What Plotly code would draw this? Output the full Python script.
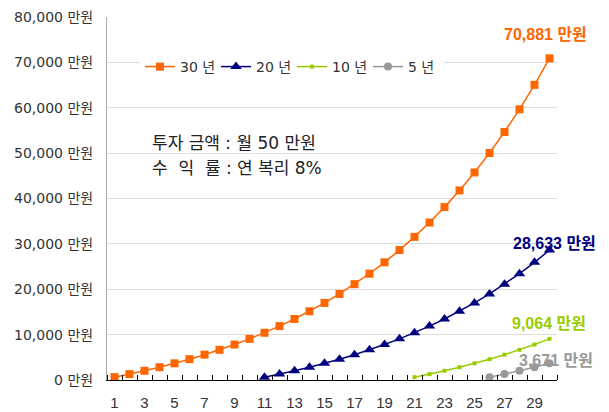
import plotly.graph_objects as go

years = list(range(1, 31))
tick_years = [1, 3, 5, 7, 9, 11, 13, 15, 17, 19, 21, 23, 25, 27, 29]
y_ticks = [0, 10000, 20000, 30000, 40000, 50000, 60000, 70000, 80000]
y_tick_labels = ["0 만원", "10,000 만원", "20,000 만원", "30,000 만원", "40,000 만원",
                 "50,000 만원", "60,000 만원", "70,000 만원", "80,000 만원"]

series_30_x = list(range(1, 31))
series_30 = [626, 1301, 2031, 2819, 3671, 4590, 5583, 6655, 7814, 9064,
             10415, 11874, 13450, 15151, 16989, 18974, 21118, 23433, 25933, 28633,
             31550, 34700, 38101, 41775, 45743, 50028, 54656, 59654, 65052, 70881]
series_20_x = list(range(11, 31))
series_20 = [626, 1301, 2031, 2819, 3671, 4590, 5583, 6655, 7814, 9064,
             10415, 11874, 13450, 15151, 16989, 18974, 21118, 23433, 25933, 28633]
series_10_x = list(range(21, 31))
series_10 = [626, 1301, 2031, 2819, 3671, 4590, 5583, 6655, 7814, 9064]
series_5_x = list(range(26, 31))
series_5 = [626, 1301, 2031, 2819, 3671]

names = ["30 년", "20 년", "10 년", "5 년"]
end_labels = ["70,881 만원", "28,633 만원", "9,064 만원", "3,671 만원"]

FONT = "DejaVu Sans, Noto Sans CJK KR"
BFONT = "Liberation Sans, Noto Sans CJK KR"
C30, C20, C10, C5 = "#FF6600", "#000080", "#99CC00", "#999999"

fig = go.Figure()
fig.add_trace(go.Scatter(x=series_30_x, y=series_30, name=names[0], mode="lines+markers",
                         line=dict(color=C30, width=1.5),
                         marker=dict(symbol="square", size=8, color=C30)))
fig.add_trace(go.Scatter(x=series_20_x, y=series_20, name=names[1], mode="lines+markers",
                         line=dict(color=C20, width=1.5),
                         marker=dict(symbol="triangle-up", size=10, color=C20)))
fig.add_trace(go.Scatter(x=series_10_x, y=series_10, name=names[2], mode="lines+markers",
                         line=dict(color=C10, width=1.5),
                         marker=dict(symbol="square", size=4, color=C10)))
fig.add_trace(go.Scatter(x=series_5_x, y=series_5, name=names[3], mode="lines+markers",
                         line=dict(color=C5, width=1.5),
                         marker=dict(symbol="circle", size=8, color=C5)))

# end labels
fig.add_annotation(x=series_30_x[-1], y=series_30[-1], text="<b>" + end_labels[0] + "</b>",
                   showarrow=False, xanchor="center", yanchor="middle", xshift=-4, yshift=24,
                   font=dict(family=BFONT, size=16, color=C30))
fig.add_annotation(x=series_20_x[-1], y=series_20[-1], text="<b>" + end_labels[1] + "</b>",
                   showarrow=False, xanchor="center", yanchor="middle", xshift=5, yshift=7,
                   font=dict(family=BFONT, size=16, color=C20))
fig.add_annotation(x=series_10_x[-1], y=series_10[-1], text="<b>" + end_labels[2] + "</b>",
                   showarrow=False, xanchor="center", yanchor="middle", xshift=-1, yshift=15,
                   font=dict(family=BFONT, size=16, color=C10))
fig.add_annotation(x=series_5_x[-1], y=series_5[-1], text="<b>" + end_labels[3] + "</b>",
                   showarrow=False, xanchor="center", yanchor="middle", xshift=6, yshift=3,
                   font=dict(family=BFONT, size=16, color=C5))

# info text
fig.add_annotation(xref="paper", yref="paper", x=(150 - 107) / 450, y=(380 - 143) / 363,
                   text="투자 금액 : 월 50 만원", showarrow=False, xanchor="left", yanchor="middle",
                   font=dict(family=FONT, size=17, color="#222222"))
fig.add_annotation(xref="paper", yref="paper", x=(150 - 107) / 450, y=(380 - 168) / 363,
                   text="수  익  률 : 연 복리 8%", showarrow=False, xanchor="left", yanchor="middle",
                   font=dict(family=FONT, size=17, color="#222222"))

fig.update_layout(
    width=609, height=412,
    margin=dict(l=107, r=52, t=17, b=32, autoexpand=False),
    paper_bgcolor="white", plot_bgcolor="white",
    font=dict(family=FONT, color="#333333"),
    legend=dict(orientation="h", x=(140 - 107) / 450, y=(380 - 67) / 363,
                xanchor="left", yanchor="middle", bgcolor="white",
                font=dict(family=FONT, size=14, color="#333333"),
                entrywidth=31, entrywidthmode="pixels", itemwidth=30,
                tracegroupgap=0),
    showlegend=True,
)
fig.update_xaxes(
    range=[0.5, 30.5], tickmode="array", tickvals=tick_years, automargin=False,
    ticktext=[str(v) for v in tick_years], ticks="", showgrid=False, zeroline=False,
    showline=True, linecolor="#000000", linewidth=1,
    tickfont=dict(family="Liberation Sans", size=15, color="#333333"), ticklabelstandoff=9,
    minor=dict(tickvals=[v + 0.5 for v in range(0, 31)], ticks="inside", ticklen=5,
               tickcolor="#000000", showgrid=False),
)
fig.update_yaxes(
    range=[0, 80000], tickmode="array", tickvals=y_ticks, ticktext=y_tick_labels,
    automargin=False,
    showgrid=True, gridcolor="#DDDDDD", gridwidth=1, zeroline=False,
    showline=True, linecolor="#AAAAAA", linewidth=1, ticks="",
    tickfont=dict(family=FONT, size=14, color="#333333"), ticklabelstandoff=10,
)

fig.write_html("out.html")
